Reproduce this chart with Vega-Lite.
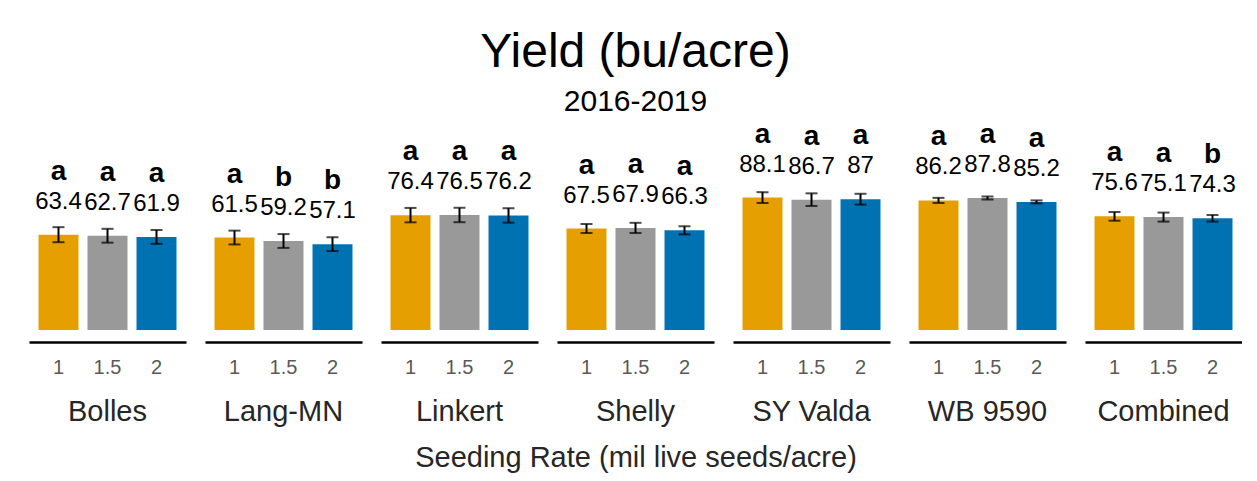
{
  "$schema": "https://vega.github.io/schema/vega-lite/v6.json",
  "padding": {"left": 29, "top": 29, "right": 0, "bottom": 0},
  "background": "white",
  "title": {
    "text": "Yield (bu/acre)",
    "subtitle": "2016-2019",
    "fontSize": 48,
    "fontWeight": "normal",
    "font": "Liberation Sans",
    "color": "#000000",
    "subtitleFont": "Liberation Sans",
    "subtitleFontSize": 30,
    "subtitleColor": "#000000",
    "subtitlePadding": 10,
    "anchor": "middle",
    "offset": -5
  },
  "data": {
    "values": [
      {"variety": "Bolles", "rate": "1", "yield": 63.4, "lo": 58.4, "hi": 68.4, "letter": "a"},
      {"variety": "Bolles", "rate": "1.5", "yield": 62.7, "lo": 58.1, "hi": 67.3, "letter": "a"},
      {"variety": "Bolles", "rate": "2", "yield": 61.9, "lo": 57.3, "hi": 66.5, "letter": "a"},
      {"variety": "Lang-MN", "rate": "1", "yield": 61.5, "lo": 56.9, "hi": 66.1, "letter": "a"},
      {"variety": "Lang-MN", "rate": "1.5", "yield": 59.2, "lo": 54.6, "hi": 63.8, "letter": "b"},
      {"variety": "Lang-MN", "rate": "2", "yield": 57.1, "lo": 52.5, "hi": 61.7, "letter": "b"},
      {"variety": "Linkert", "rate": "1", "yield": 76.4, "lo": 71.6, "hi": 81.2, "letter": "a"},
      {"variety": "Linkert", "rate": "1.5", "yield": 76.5, "lo": 71.7, "hi": 81.3, "letter": "a"},
      {"variety": "Linkert", "rate": "2", "yield": 76.2, "lo": 71.4, "hi": 81.0, "letter": "a"},
      {"variety": "Shelly", "rate": "1", "yield": 67.5, "lo": 64.5, "hi": 70.5, "letter": "a"},
      {"variety": "Shelly", "rate": "1.5", "yield": 67.9, "lo": 64.5, "hi": 71.3, "letter": "a"},
      {"variety": "Shelly", "rate": "2", "yield": 66.3, "lo": 63.6, "hi": 69.0, "letter": "a"},
      {"variety": "SY Valda", "rate": "1", "yield": 88.1, "lo": 84.5, "hi": 91.7, "letter": "a"},
      {"variety": "SY Valda", "rate": "1.5", "yield": 86.7, "lo": 82.5, "hi": 90.9, "letter": "a"},
      {"variety": "SY Valda", "rate": "2", "yield": 87, "lo": 83.4, "hi": 90.6, "letter": "a"},
      {"variety": "WB 9590", "rate": "1", "yield": 86.2, "lo": 84.5, "hi": 87.9, "letter": "a"},
      {"variety": "WB 9590", "rate": "1.5", "yield": 87.8, "lo": 86.8, "hi": 88.8, "letter": "a"},
      {"variety": "WB 9590", "rate": "2", "yield": 85.2, "lo": 84.2, "hi": 86.2, "letter": "a"},
      {"variety": "Combined", "rate": "1", "yield": 75.6, "lo": 72.7, "hi": 78.5, "letter": "a"},
      {"variety": "Combined", "rate": "1.5", "yield": 75.1, "lo": 72.1, "hi": 78.1, "letter": "a"},
      {"variety": "Combined", "rate": "2", "yield": 74.3, "lo": 72.1, "hi": 76.5, "letter": "b"}
    ]
  },
  "facet": {
    "column": {
      "field": "variety",
      "type": "nominal",
      "sort": ["Bolles", "Lang-MN", "Linkert", "Shelly", "SY Valda", "WB 9590", "Combined"],
      "title": "Seeding Rate (mil live seeds/acre)",
      "header": {
        "labelOrient": "bottom",
        "titleOrient": "bottom",
        "labelFont": "Liberation Sans",
        "labelFontSize": 29,
        "labelColor": "#262626",
        "labelPadding": 21,
        "titleFont": "Liberation Sans",
        "titleFontSize": 29,
        "titleFontWeight": "normal",
        "titleColor": "#262626",
        "titlePadding": 7
      }
    }
  },
  "spacing": 19,
  "spec": {
    "width": 157,
    "height": 218,
    "encoding": {
      "x": {
        "field": "rate",
        "type": "nominal",
        "sort": ["1", "1.5", "2"],
        "scale": {"paddingInner": 0.184, "paddingOuter": 0.194},
        "axis": {
          "title": null,
          "labelAngle": 0,
          "ticks": false,
          "grid": false,
          "domainColor": "#000000",
          "domainWidth": 2.5,
          "offset": 12,
          "labelFont": "Liberation Sans",
          "labelFontSize": 20,
          "labelColor": "#595959",
          "labelPadding": 15
        }
      }
    },
    "layer": [
      {
        "mark": {"type": "bar"},
        "encoding": {
          "y": {"field": "yield", "type": "quantitative", "scale": {"domain": [0, 145], "nice": false}, "axis": null},
          "color": {
            "field": "rate",
            "type": "nominal",
            "scale": {"domain": ["1", "1.5", "2"], "range": ["#E69F00", "#999999", "#0072B2"]},
            "legend": null
          }
        }
      },
      {
        "mark": {"type": "rule", "color": "#000000", "strokeWidth": 2},
        "encoding": {
          "y": {"field": "lo", "type": "quantitative"},
          "y2": {"field": "hi"}
        }
      },
      {
        "mark": {"type": "tick", "color": "#000000", "thickness": 2, "size": 12, "orient": "horizontal"},
        "encoding": {"y": {"field": "lo", "type": "quantitative"}}
      },
      {
        "mark": {"type": "tick", "color": "#000000", "thickness": 2, "size": 12, "orient": "horizontal"},
        "encoding": {"y": {"field": "hi", "type": "quantitative"}}
      },
      {
        "mark": {"type": "text", "font": "Liberation Sans", "fontSize": 24, "color": "#000000", "baseline": "middle", "align": "center", "dy": -33},
        "encoding": {
          "y": {"field": "yield", "type": "quantitative"},
          "text": {"field": "yield", "type": "quantitative"}
        }
      },
      {
        "mark": {"type": "text", "font": "Liberation Sans", "fontSize": 28, "fontWeight": "bold", "color": "#000000", "baseline": "middle", "align": "center", "dy": -63},
        "encoding": {
          "y": {"field": "yield", "type": "quantitative"},
          "text": {"field": "letter", "type": "nominal"}
        }
      }
    ]
  },
  "config": {
    "view": {"stroke": null},
    "font": "Liberation Sans"
  }
}
